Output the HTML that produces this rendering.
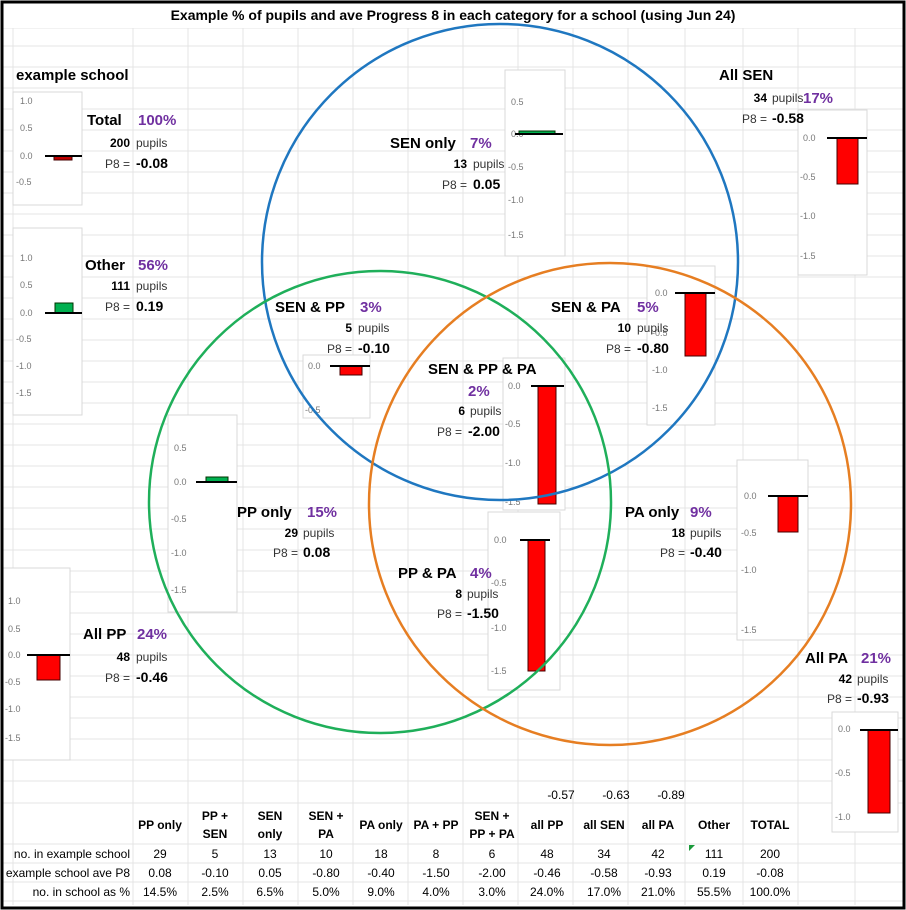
<!DOCTYPE html>
<html><head><meta charset="utf-8"><style>
html,body{margin:0;padding:0;background:#fff}
svg{display:block}
text{font-family:"Liberation Sans",Arial,sans-serif}
.t{font-size:15px;font-weight:bold;fill:#000}
.p{font-size:15px;font-weight:bold;fill:#7030a0}
.n{font-size:12px;font-weight:bold;fill:#000}
.s{font-size:12px;fill:#333}
.v{font-size:14px;font-weight:bold;fill:#000}
.a{font-size:9px;fill:#777}
.tb{font-size:12px;fill:#000;font-family:"Liberation Sans Narrow","Liberation Sans",Arial,sans-serif}
.th{font-size:12px;font-weight:bold;fill:#000;font-family:"Liberation Sans Narrow","Liberation Sans",Arial,sans-serif}
.box{fill:#fff;stroke:#d9d9d9;stroke-width:1}
.bar{fill:#f00;stroke:#400;stroke-width:1}
.gbar{fill:#00b050;stroke:#030;stroke-width:1}
</style></head><body>
<svg width="906" height="910" viewBox="0 0 906 910" xmlns="http://www.w3.org/2000/svg">
<rect x="0" y="0" width="906" height="910" fill="#fff"/>
<g stroke="#e4e4e4" stroke-width="1">
<line x1="13" y1="28" x2="13" y2="905"/><line x1="133" y1="28" x2="133" y2="905"/><line x1="188" y1="28" x2="188" y2="905"/><line x1="243" y1="28" x2="243" y2="905"/><line x1="298" y1="28" x2="298" y2="905"/><line x1="353" y1="28" x2="353" y2="905"/><line x1="408" y1="28" x2="408" y2="905"/><line x1="463" y1="28" x2="463" y2="905"/><line x1="518" y1="28" x2="518" y2="905"/><line x1="573" y1="28" x2="573" y2="905"/><line x1="628" y1="28" x2="628" y2="905"/><line x1="685" y1="28" x2="685" y2="905"/><line x1="743" y1="28" x2="743" y2="905"/><line x1="798" y1="28" x2="798" y2="905"/><line x1="855" y1="28" x2="855" y2="905"/>
<line x1="3" y1="28" x2="903" y2="28"/><line x1="3" y1="46" x2="903" y2="46"/><line x1="3" y1="67" x2="903" y2="67"/><line x1="3" y1="88" x2="903" y2="88"/><line x1="3" y1="109" x2="903" y2="109"/><line x1="3" y1="130" x2="903" y2="130"/><line x1="3" y1="151" x2="903" y2="151"/><line x1="3" y1="172" x2="903" y2="172"/><line x1="3" y1="193" x2="903" y2="193"/><line x1="3" y1="214" x2="903" y2="214"/><line x1="3" y1="235" x2="903" y2="235"/><line x1="3" y1="256" x2="903" y2="256"/><line x1="3" y1="277" x2="903" y2="277"/><line x1="3" y1="298" x2="903" y2="298"/><line x1="3" y1="319" x2="903" y2="319"/><line x1="3" y1="340" x2="903" y2="340"/><line x1="3" y1="361" x2="903" y2="361"/><line x1="3" y1="382" x2="903" y2="382"/><line x1="3" y1="403" x2="903" y2="403"/><line x1="3" y1="424" x2="903" y2="424"/><line x1="3" y1="445" x2="903" y2="445"/><line x1="3" y1="466" x2="903" y2="466"/><line x1="3" y1="487" x2="903" y2="487"/><line x1="3" y1="508" x2="903" y2="508"/><line x1="3" y1="529" x2="903" y2="529"/><line x1="3" y1="550" x2="903" y2="550"/><line x1="3" y1="571" x2="903" y2="571"/><line x1="3" y1="592" x2="903" y2="592"/><line x1="3" y1="613" x2="903" y2="613"/><line x1="3" y1="634" x2="903" y2="634"/><line x1="3" y1="655" x2="903" y2="655"/><line x1="3" y1="676" x2="903" y2="676"/><line x1="3" y1="697" x2="903" y2="697"/><line x1="3" y1="718" x2="903" y2="718"/><line x1="3" y1="739" x2="903" y2="739"/><line x1="3" y1="760" x2="903" y2="760"/><line x1="3" y1="781" x2="903" y2="781"/><line x1="3" y1="803" x2="903" y2="803"/><line x1="3" y1="844" x2="903" y2="844"/><line x1="3" y1="863" x2="903" y2="863"/><line x1="3" y1="882" x2="903" y2="882"/><line x1="3" y1="901" x2="903" y2="901"/>
</g>
<rect x="3" y="3" width="900" height="25" fill="#fff"/>
<text x="453" y="20" text-anchor="middle" style="font-size:14px;font-weight:bold">Example % of pupils and ave Progress 8 in each category for a school (using Jun 24)</text>
<text x="16" y="80" style="font-size:15px;font-weight:bold">example school</text>

<!-- chart boxes -->
<rect class="box" x="13" y="92" width="69" height="113"/>
<g class="a"><text x="20" y="104">1.0</text><text x="20" y="131">0.5</text><text x="20" y="159">0.0</text><text x="16" y="185">-0.5</text></g>
<rect x="54" y="156" width="18" height="4" fill="#c00000" stroke="#400"/>
<line x1="45" y1="156" x2="82" y2="156" stroke="#000" stroke-width="2"/>

<rect class="box" x="13" y="228" width="69" height="187"/>
<g class="a"><text x="20" y="261">1.0</text><text x="20" y="288">0.5</text><text x="20" y="316">0.0</text><text x="16" y="342">-0.5</text><text x="16" y="369">-1.0</text><text x="16" y="396">-1.5</text></g>
<rect class="gbar" x="55" y="303" width="18" height="10"/>
<line x1="45" y1="313" x2="82" y2="313" stroke="#000" stroke-width="2"/>

<rect class="box" x="505" y="70" width="60" height="186"/>
<g class="a"><text x="511" y="105">0.5</text><text x="511" y="137">0.0</text><text x="508" y="170">-0.5</text><text x="508" y="203">-1.0</text><text x="508" y="238">-1.5</text></g>
<rect class="gbar" x="519" y="131" width="36" height="3"/>
<line x1="515" y1="134" x2="563" y2="134" stroke="#000" stroke-width="2"/>

<rect class="box" x="798" y="110" width="69" height="165"/>
<g class="a"><text x="803" y="141">0.0</text><text x="800" y="180">-0.5</text><text x="800" y="219">-1.0</text><text x="800" y="259">-1.5</text></g>
<rect class="bar" x="837" y="138" width="21" height="46"/>
<line x1="827" y1="138" x2="867" y2="138" stroke="#000" stroke-width="2"/>

<rect class="box" x="303" y="355" width="67" height="63"/>
<g class="a"><text x="308" y="369">0.0</text><text x="305" y="413">-0.5</text></g>
<rect class="bar" x="340" y="366" width="22" height="9"/>
<line x1="330" y1="366" x2="370" y2="366" stroke="#000" stroke-width="2"/>

<rect class="box" x="647" y="266" width="68" height="159"/>
<g class="a"><text x="655" y="296">0.0</text><text x="652" y="336">-0.5</text><text x="652" y="373">-1.0</text><text x="652" y="411">-1.5</text></g>
<rect class="bar" x="685" y="293" width="21" height="63"/>
<line x1="675" y1="293" x2="715" y2="293" stroke="#000" stroke-width="2"/>

<rect class="box" x="503" y="358" width="62" height="152"/>
<g class="a"><text x="508" y="389">0.0</text><text x="505" y="427">-0.5</text><text x="505" y="466">-1.0</text><text x="505" y="505">-1.5</text></g>
<rect class="bar" x="538" y="386" width="18" height="118"/>
<line x1="531" y1="386" x2="564" y2="386" stroke="#000" stroke-width="2"/>

<rect class="box" x="168" y="415" width="69" height="197"/>
<g class="a"><text x="174" y="451">0.5</text><text x="174" y="485">0.0</text><text x="171" y="522">-0.5</text><text x="171" y="556">-1.0</text><text x="171" y="593">-1.5</text></g>
<rect class="gbar" x="206" y="477" width="22" height="5"/>
<line x1="196" y1="482" x2="237" y2="482" stroke="#000" stroke-width="2"/>

<rect class="box" x="488" y="512" width="72" height="178"/>
<g class="a"><text x="494" y="543">0.0</text><text x="491" y="586">-0.5</text><text x="491" y="631">-1.0</text><text x="491" y="674">-1.5</text></g>
<rect class="bar" x="528" y="540" width="17" height="131"/>
<line x1="520" y1="540" x2="550" y2="540" stroke="#000" stroke-width="2"/>

<rect class="box" x="737" y="460" width="71" height="180"/>
<g class="a"><text x="744" y="499">0.0</text><text x="741" y="536">-0.5</text><text x="741" y="573">-1.0</text><text x="741" y="633">-1.5</text></g>
<rect class="bar" x="778" y="496" width="20" height="36"/>
<line x1="768" y1="496" x2="808" y2="496" stroke="#000" stroke-width="2"/>

<rect class="box" x="3" y="568" width="67" height="192"/>
<g class="a"><text x="8" y="604">1.0</text><text x="8" y="632">0.5</text><text x="8" y="658">0.0</text><text x="5" y="685">-0.5</text><text x="5" y="712">-1.0</text><text x="5" y="741">-1.5</text></g>
<rect class="bar" x="37" y="655" width="23" height="25"/>
<line x1="27" y1="655" x2="70" y2="655" stroke="#000" stroke-width="2"/>

<rect class="box" x="832" y="712" width="66" height="120"/>
<g class="a"><text x="838" y="732">0.0</text><text x="835" y="776">-0.5</text><text x="835" y="820">-1.0</text></g>
<rect class="bar" x="868" y="730" width="22" height="83"/>
<line x1="860" y1="730" x2="898" y2="730" stroke="#000" stroke-width="2"/>

<!-- circles -->
<circle cx="500" cy="262" r="238" fill="none" stroke="#1f77c0" stroke-width="2.5"/>
<circle cx="380" cy="502" r="231" fill="none" stroke="#1faf5a" stroke-width="2.5"/>
<circle cx="610" cy="504" r="241" fill="none" stroke="#e67e22" stroke-width="2.5"/>

<!-- labels -->
<text class="t" x="87" y="125">Total</text><text class="p" x="138" y="125">100%</text>
<text class="n" x="130" y="147" text-anchor="end">200</text><text class="s" x="136" y="147">pupils</text>
<text class="s" x="130" y="168" text-anchor="end">P8 =</text><text class="v" x="136" y="168">-0.08</text>

<text class="t" x="85" y="270">Other</text><text class="p" x="138" y="270">56%</text>
<text class="n" x="130" y="290" text-anchor="end">111</text><text class="s" x="136" y="290">pupils</text>
<text class="s" x="130" y="311" text-anchor="end">P8 =</text><text class="v" x="136" y="311">0.19</text>

<text class="t" x="390" y="148">SEN only</text><text class="p" x="470" y="148">7%</text>
<text class="n" x="467" y="168" text-anchor="end">13</text><text class="s" x="473" y="168">pupils</text>
<text class="s" x="467" y="189" text-anchor="end">P8 =</text><text class="v" x="473" y="189">0.05</text>

<text class="t" x="719" y="80">All SEN</text>
<text class="n" x="767" y="102" text-anchor="end">34</text><text class="s" x="772" y="102">pupils</text>
<text class="p" x="803" y="103">17%</text>
<text class="s" x="767" y="123" text-anchor="end">P8 =</text><text class="v" x="772" y="123">-0.58</text>

<text class="t" x="275" y="312">SEN &amp; PP</text><text class="p" x="360" y="312">3%</text>
<text class="n" x="352" y="332" text-anchor="end">5</text><text class="s" x="358" y="332">pupils</text>
<text class="s" x="352" y="353" text-anchor="end">P8 =</text><text class="v" x="358" y="353">-0.10</text>

<text class="t" x="551" y="312">SEN &amp; PA</text><text class="p" x="637" y="312">5%</text>
<text class="n" x="631" y="332" text-anchor="end">10</text><text class="s" x="637" y="332">pupils</text>
<text class="s" x="631" y="353" text-anchor="end">P8 =</text><text class="v" x="637" y="353">-0.80</text>

<text class="t" x="428" y="374">SEN &amp; PP &amp; PA</text>
<text class="p" x="468" y="396">2%</text>
<text class="n" x="465" y="415" text-anchor="end">6</text><text class="s" x="470" y="415">pupils</text>
<text class="s" x="462" y="436" text-anchor="end">P8 =</text><text class="v" x="468" y="436">-2.00</text>

<text class="t" x="237" y="517">PP only</text><text class="p" x="307" y="517">15%</text>
<text class="n" x="298" y="537" text-anchor="end">29</text><text class="s" x="303" y="537">pupils</text>
<text class="s" x="298" y="557" text-anchor="end">P8 =</text><text class="v" x="303" y="557">0.08</text>

<text class="t" x="398" y="578">PP &amp; PA</text><text class="p" x="470" y="578">4%</text>
<text class="n" x="462" y="598" text-anchor="end">8</text><text class="s" x="467" y="598">pupils</text>
<text class="s" x="462" y="618" text-anchor="end">P8 =</text><text class="v" x="467" y="618">-1.50</text>

<text class="t" x="625" y="517">PA only</text><text class="p" x="690" y="517">9%</text>
<text class="n" x="685" y="537" text-anchor="end">18</text><text class="s" x="690" y="537">pupils</text>
<text class="s" x="685" y="557" text-anchor="end">P8 =</text><text class="v" x="690" y="557">-0.40</text>

<text class="t" x="83" y="639">All PP</text><text class="p" x="137" y="639">24%</text>
<text class="n" x="130" y="661" text-anchor="end">48</text><text class="s" x="136" y="661">pupils</text>
<text class="s" x="130" y="682" text-anchor="end">P8 =</text><text class="v" x="136" y="682">-0.46</text>

<text class="t" x="805" y="663">All PA</text><text class="p" x="861" y="663">21%</text>
<text class="n" x="852" y="683" text-anchor="end">42</text><text class="s" x="857" y="683">pupils</text>
<text class="s" x="852" y="703" text-anchor="end">P8 =</text><text class="v" x="857" y="703">-0.93</text>

<!-- table -->
<g class="tb" text-anchor="middle">
<text x="561" y="799">-0.57</text><text x="616" y="799">-0.63</text><text x="671" y="799">-0.89</text>
</g>
<g class="th" text-anchor="middle">
<text x="160" y="829">PP only</text>
<text x="215" y="820">PP +</text><text x="215" y="838">SEN</text>
<text x="270" y="820">SEN</text><text x="270" y="838">only</text>
<text x="326" y="820">SEN +</text><text x="326" y="838">PA</text>
<text x="381" y="829">PA only</text>
<text x="436" y="829">PA + PP</text>
<text x="492" y="820">SEN +</text><text x="492" y="838">PP + PA</text>
<text x="547" y="829">all PP</text><text x="604" y="829">all SEN</text><text x="658" y="829">all PA</text>
<text x="714" y="829">Other</text><text x="770" y="829">TOTAL</text>
</g>
<polygon points="689,845 695,845 689,851" fill="#1a9a3a"/>
<g class="tb">
<text x="130" y="858" text-anchor="end">no. in example school</text>
<text x="130" y="877" text-anchor="end">example school ave P8</text>
<text x="130" y="896" text-anchor="end">no. in school as %</text>
</g>
<g class="tb" text-anchor="middle">
<text x="160" y="858">29</text><text x="215" y="858">5</text><text x="270" y="858">13</text><text x="326" y="858">10</text><text x="381" y="858">18</text><text x="436" y="858">8</text><text x="492" y="858">6</text><text x="547" y="858">48</text><text x="604" y="858">34</text><text x="658" y="858">42</text><text x="714" y="858">111</text><text x="770" y="858">200</text>
<text x="160" y="877">0.08</text><text x="215" y="877">-0.10</text><text x="270" y="877">0.05</text><text x="326" y="877">-0.80</text><text x="381" y="877">-0.40</text><text x="436" y="877">-1.50</text><text x="492" y="877">-2.00</text><text x="547" y="877">-0.46</text><text x="604" y="877">-0.58</text><text x="658" y="877">-0.93</text><text x="714" y="877">0.19</text><text x="770" y="877">-0.08</text>
<text x="160" y="896">14.5%</text><text x="215" y="896">2.5%</text><text x="270" y="896">6.5%</text><text x="326" y="896">5.0%</text><text x="381" y="896">9.0%</text><text x="436" y="896">4.0%</text><text x="492" y="896">3.0%</text><text x="547" y="896">24.0%</text><text x="604" y="896">17.0%</text><text x="658" y="896">21.0%</text><text x="714" y="896">55.5%</text><text x="770" y="896">100.0%</text>
</g>
<rect x="2" y="2" width="902" height="906" fill="none" stroke="#000" stroke-width="3"/>
</svg>
</body></html>
